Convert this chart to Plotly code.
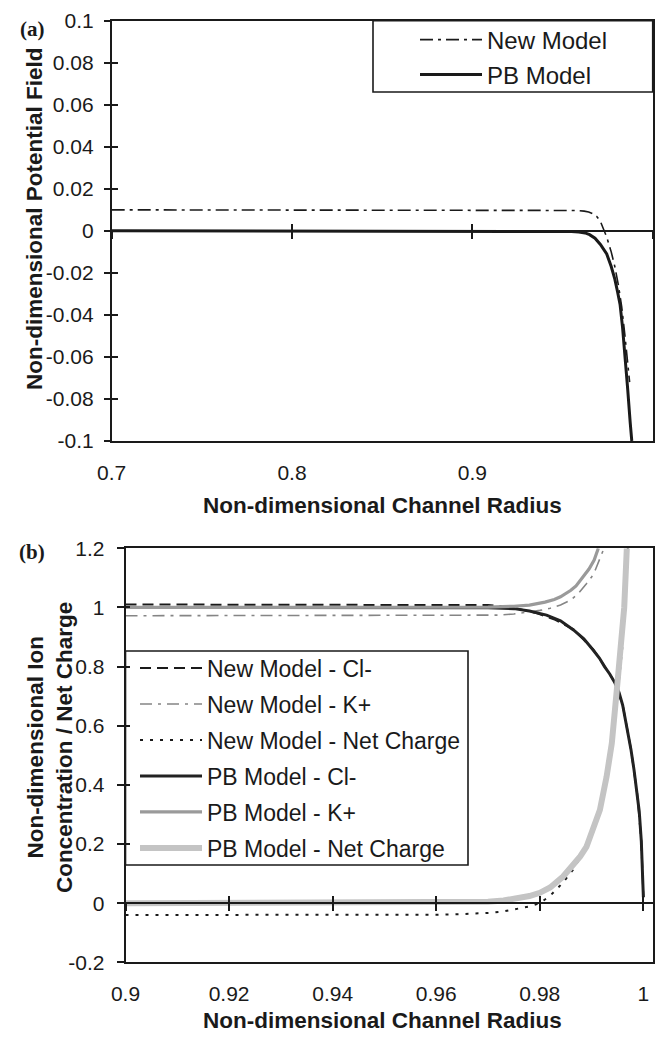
import plotly.graph_objects as go

W, H = 655, 1040

# ---------------- Panel (a): potential field ----------------
a_new_x = [0.70, 0.80, 0.90, 0.950, 0.958, 0.962, 0.9645, 0.967, 0.969, 0.971, 0.9725, 0.9745, 0.977, 0.979, 0.981, 0.9828, 0.9845, 0.986, 0.9872]
a_new_y = [0.010, 0.010, 0.010, 0.0099, 0.0097, 0.0094, 0.0090, 0.0081, 0.0068, 0.0045, 0.0015, -0.003, -0.010, -0.017, -0.026, -0.036, -0.049, -0.062, -0.072]
a_pb_x = [0.70, 0.80, 0.90, 0.940, 0.950, 0.955, 0.959, 0.9625, 0.965, 0.968, 0.971, 0.9745, 0.977, 0.979, 0.9805, 0.9819, 0.9833, 0.9847, 0.9861, 0.9875, 0.9884]
a_pb_y = [0.0, 0.0, 0.0, 0.0, -0.0001, -0.0003, -0.0006, -0.0010, -0.0018, -0.0035, -0.0065, -0.011, -0.017, -0.023, -0.029, -0.035, -0.046, -0.059, -0.075, -0.091, -0.100]
a_xticks = [0.7, 0.8, 0.9, 1.0]
a_xtext = ["0.7", "0.8", "0.9", "1"]
a_yticks = [-0.1, -0.08, -0.06, -0.04, -0.02, 0, 0.02, 0.04, 0.06, 0.08, 0.1]
a_ytext = ["-0.1", "-0.08", "-0.06", "-0.04", "-0.02", "0", "0.02", "0.04", "0.06", "0.08", "0.1"]
a_names = ["New Model", "PB Model"]

# ---------------- Panel (b): concentrations ----------------
b_new_cl_x = [0.90, 0.95, 0.965, 0.970, 0.9735, 0.976, 0.9795, 0.983, 0.9865, 0.9903, 0.9925, 0.9945, 0.996, 0.9976, 0.9988, 0.9996, 1.0]
b_new_cl_y = [1.01, 1.01, 1.01, 1.008, 1.003, 0.995, 0.980, 0.958, 0.926, 0.858, 0.802, 0.746, 0.671, 0.521, 0.371, 0.211, 0.021]
b_new_k_x = [0.90, 0.95, 0.965, 0.972, 0.975, 0.977, 0.980, 0.982, 0.984, 0.986, 0.9875, 0.989, 0.990, 0.9907, 0.9913, 0.9918, 0.9924]
b_new_k_y = [0.972, 0.972, 0.972, 0.974, 0.978, 0.982, 0.990, 0.997, 1.008, 1.025, 1.048, 1.08, 1.103, 1.126, 1.15, 1.176, 1.2]
b_new_net_x = [0.90, 0.95, 0.960, 0.965, 0.970, 0.973, 0.976, 0.978, 0.980, 0.982, 0.9845, 0.9865, 0.9883, 0.9903, 0.9918, 0.9932, 0.9942, 0.9951, 0.9959, 0.9965, 0.9970]
b_new_net_y = [-0.04, -0.04, -0.039, -0.037, -0.033, -0.028, -0.019, -0.011, 0.0, 0.025, 0.07, 0.115, 0.17, 0.26, 0.33, 0.44, 0.55, 0.72, 0.86, 1.0, 1.2]
b_pb_cl_x = [0.90, 0.95, 0.965, 0.970, 0.975, 0.978, 0.9813, 0.984, 0.9865, 0.9885, 0.9903, 0.9915, 0.9925, 0.9935, 0.9945, 0.9953, 0.996, 0.9968, 0.9976, 0.9982, 0.9988, 0.9992, 0.9996, 0.9999, 1.0]
b_pb_cl_y = [1.0, 1.0, 1.0, 0.999, 0.996, 0.988, 0.974, 0.955, 0.924, 0.894, 0.856, 0.829, 0.80, 0.775, 0.745, 0.712, 0.67, 0.60, 0.52, 0.45, 0.37, 0.31, 0.21, 0.10, 0.02]
b_pb_k_x = [0.90, 0.95, 0.970, 0.975, 0.978, 0.981, 0.9828, 0.984, 0.985, 0.986, 0.987, 0.9878, 0.9887, 0.9895, 0.9905, 0.9913]
b_pb_k_y = [1.0, 1.0, 1.001, 1.004, 1.008, 1.018, 1.027, 1.036, 1.046, 1.058, 1.073, 1.09, 1.11, 1.13, 1.16, 1.2]
b_pb_net_x = [0.90, 0.95, 0.960, 0.965, 0.970, 0.973, 0.976, 0.978, 0.980, 0.982, 0.9845, 0.986, 0.9878, 0.989, 0.990, 0.9916, 0.9929, 0.9939, 0.9949, 0.9957, 0.9963, 0.9968]
b_pb_net_y = [0.0, 0.0, 0.001, 0.002, 0.005, 0.009, 0.016, 0.024, 0.035, 0.053, 0.09, 0.118, 0.158, 0.19, 0.235, 0.315, 0.428, 0.54, 0.727, 0.86, 1.0, 1.2]
b_xticks = [0.9, 0.92, 0.94, 0.96, 0.98, 1.0]
b_xtext = ["0.9", "0.92", "0.94", "0.96", "0.98", "1"]
b_yticks = [-0.2, 0, 0.2, 0.4, 0.6, 0.8, 1.0, 1.2]
b_ytext = ["-0.2", "0", "0.2", "0.4", "0.6", "0.8", "1", "1.2"]
b_names = ["New Model - Cl-", "New Model - K+", "New Model - Net Charge",
           "PB Model - Cl-", "PB Model - K+", "PB Model - Net Charge"]


def px_x(p):
    return p / W


def px_y(p):
    return 1 - p / H


FONT = "Liberation Sans, Arial, sans-serif"
BLACK = "#1a1a1a"

# geometry (pixels)
A_L, A_R, A_T, A_B = 111.7, 652.7, 20.7, 441.0
B_L, B_R, B_T, B_B = 125.5, 652.7, 548.3, 962.3
a_xrange = [0.7, 1.0]
a_yrange = [-0.1, 0.1]
b_xrange = [0.9, 1.0018]
b_yrange = [-0.2, 1.2]

a_dom_x = [px_x(A_L), px_x(A_R)]
a_dom_y = [px_y(A_B), px_y(A_T)]
b_dom_x = [px_x(B_L), px_x(B_R)]
b_dom_y = [px_y(B_B), px_y(B_T)]
a_zero = a_dom_y[0] + (0 - a_yrange[0]) / (a_yrange[1] - a_yrange[0]) * (a_dom_y[1] - a_dom_y[0])
b_zero = b_dom_y[0] + (0 - b_yrange[0]) / (b_yrange[1] - b_yrange[0]) * (b_dom_y[1] - b_dom_y[0])

# legend entry positions (px): one legend per entry for exact spacing
a_leg_x, a_leg_rows = 415, [40, 75]
b_leg_x, b_leg_rows = 135, [668, 704, 740, 776, 812, 848]

fig = go.Figure()

# Panel (a) traces
a_styles = [dict(color=BLACK, width=1.6, dash="13px,5px,3px,5px"),
            dict(color=BLACK, width=3)]
for i, (xs, ys) in enumerate([(a_new_x, a_new_y), (a_pb_x, a_pb_y)]):
    fig.add_trace(go.Scatter(x=xs, y=ys, mode="lines", name=a_names[i], line=a_styles[i],
                             xaxis="x", yaxis="y", legend="legend" if i == 0 else "legend2"))

# Panel (b) traces
b_styles = [dict(color=BLACK, width=2, dash="11px,6px"),
            dict(color="#858585", width=1.6, dash="12px,6px,3px,6px"),
            dict(color=BLACK, width=2, dash="3px,7px"),
            dict(color="#222222", width=3),
            dict(color="#9a9a9a", width=3.2),
            dict(color="#c4c4c4", width=6)]
b_series = [(b_new_cl_x, b_new_cl_y), (b_new_k_x, b_new_k_y), (b_new_net_x, b_new_net_y),
            (b_pb_cl_x, b_pb_cl_y), (b_pb_k_x, b_pb_k_y), (b_pb_net_x, b_pb_net_y)]
for i, (xs, ys) in enumerate(b_series):
    fig.add_trace(go.Scatter(x=xs, y=ys, mode="lines", name=b_names[i], line=b_styles[i],
                             xaxis="x2", yaxis="y2", legend="legend%d" % (i + 3)))

# empty traces to activate overlay axes (cross ticks / zero lines)
for xa, ya in [("x3", "y"), ("x4", "y"), ("x", "y3"), ("x5", "y2"), ("x6", "y2"), ("x2", "y4")]:
    fig.add_trace(go.Scatter(x=[], y=[], xaxis=xa, yaxis=ya, showlegend=False, hoverinfo="skip"))

tickfont = dict(family=FONT, size=21, color=BLACK)
common_main = dict(showgrid=False, zeroline=False, showline=True, mirror=True, automargin=False,
                   linecolor=BLACK, linewidth=1.6, tickfont=tickfont)
overlay = dict(showgrid=False, zeroline=False, automargin=False, showticklabels=False,
               tickwidth=1.6, tickcolor=BLACK)

legends = {}
for i, row in enumerate(a_leg_rows):
    legends["legend" if i == 0 else "legend2"] = dict(
        x=px_x(a_leg_x), y=px_y(row), xanchor="left", yanchor="middle",
        bgcolor="rgba(0,0,0,0)", borderwidth=0, itemwidth=62,
        font=dict(family=FONT, size=24, color=BLACK))
for i, row in enumerate(b_leg_rows):
    legends["legend%d" % (i + 3)] = dict(
        x=px_x(b_leg_x), y=px_y(row), xanchor="left", yanchor="middle",
        bgcolor="rgba(0,0,0,0)", borderwidth=0, itemwidth=62,
        font=dict(family=FONT, size=23, color=BLACK))

fig.update_layout(
    width=W, height=H,
    margin=dict(l=0, r=0, t=0, b=0, pad=0, autoexpand=False),
    paper_bgcolor="white", plot_bgcolor="white",
    showlegend=True,
    # panel (a)
    xaxis=dict(domain=a_dom_x, range=a_xrange, anchor="y", tickvals=a_xticks, ticktext=a_xtext,
               ticks="", ticklabelstandoff=12, **common_main),
    yaxis=dict(domain=a_dom_y, range=a_yrange, anchor="x", tickvals=a_yticks, ticktext=a_ytext,
               ticks="outside", ticklen=6, tickwidth=1.6, tickcolor=BLACK, ticklabelstandoff=6, **common_main),
    xaxis3=dict(overlaying="x", anchor="free", position=a_zero, range=a_xrange, tickvals=a_xticks,
                ticks="outside", ticklen=7, showline=True, linecolor=BLACK, linewidth=1.6, **overlay),
    xaxis4=dict(overlaying="x", anchor="free", position=a_zero, range=a_xrange, tickvals=a_xticks,
                ticks="inside", ticklen=7, showline=False, **overlay),
    yaxis3=dict(overlaying="y", anchor="x", range=a_yrange, tickvals=a_yticks,
                ticks="inside", ticklen=6, showline=False, **overlay),
    # panel (b)
    xaxis2=dict(domain=b_dom_x, range=b_xrange, anchor="y2", tickvals=b_xticks, ticktext=b_xtext,
                ticks="", ticklabelstandoff=12, **common_main),
    yaxis2=dict(domain=b_dom_y, range=b_yrange, anchor="x2", tickvals=b_yticks, ticktext=b_ytext,
                ticks="outside", ticklen=7, tickwidth=1.6, tickcolor=BLACK, ticklabelstandoff=8, **common_main),
    xaxis5=dict(overlaying="x2", anchor="free", position=b_zero, range=b_xrange, tickvals=b_xticks,
                ticks="outside", ticklen=7, showline=True, linecolor=BLACK, linewidth=1.6, **overlay),
    xaxis6=dict(overlaying="x2", anchor="free", position=b_zero, range=b_xrange, tickvals=b_xticks,
                ticks="inside", ticklen=7, showline=False, **overlay),
    yaxis4=dict(overlaying="y2", anchor="x2", range=b_yrange, tickvals=b_yticks,
                ticks="inside", ticklen=4, showline=False, **overlay),
    **legends,
)

# legend boxes
fig.add_shape(type="rect", xref="paper", yref="paper", x0=px_x(373), x1=px_x(652.7),
              y0=px_y(92), y1=px_y(20.7), line=dict(color=BLACK, width=1.6), layer="above")
fig.add_shape(type="rect", xref="paper", yref="paper", x0=px_x(125.5), x1=px_x(468),
              y0=px_y(865), y1=px_y(651), line=dict(color=BLACK, width=1.6), layer="above")

# titles and panel labels
title_font = dict(family=FONT, size=22.5, color=BLACK)
serif = dict(family="Liberation Serif, Times New Roman, serif", size=21, color=BLACK)
ann = [
    dict(text="<b>(a)</b>", x=px_x(32), y=px_y(29), font=serif),
    dict(text="<b>(b)</b>", x=px_x(32), y=px_y(552), font=serif),
    dict(text="<b>Non-dimensional Channel Radius</b>", x=px_x(382), y=px_y(505), font=title_font),
    dict(text="<b>Non-dimensional Channel Radius</b>", x=px_x(382), y=px_y(1020), font=title_font),
    dict(text="<b>Non-dimensional Potential Field</b>", x=px_x(34), y=px_y(219), textangle=-90, font=title_font),
    dict(text="<b>Non-dimensional Ion</b><br><b>Concentration / Net Charge</b>", x=px_x(50), y=px_y(748),
         textangle=-90, font=title_font),
]
for a in ann:
    fig.add_annotation(xref="paper", yref="paper", xanchor="center", yanchor="middle",
                       showarrow=False, **a)

fig.write_html("out.html")
